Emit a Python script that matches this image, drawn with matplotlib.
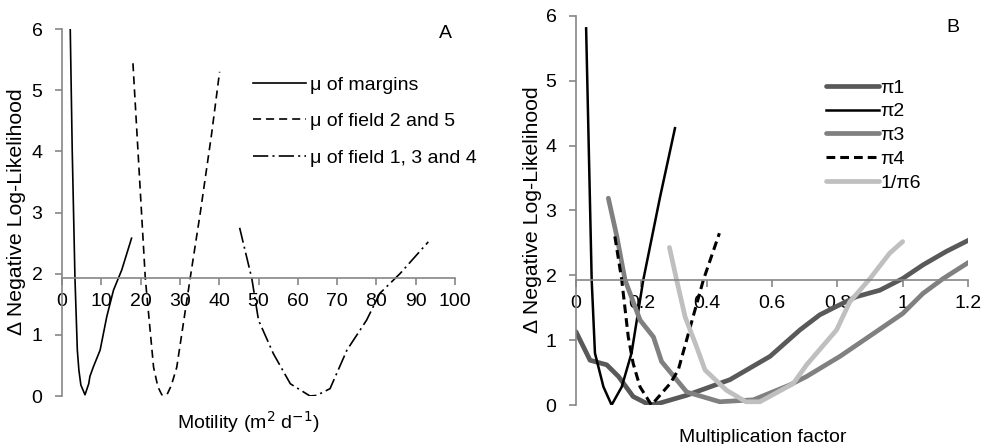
import matplotlib
matplotlib.use("Agg")
import matplotlib.pyplot as plt

plt.rcParams['font.family'] = ['Liberation Sans', 'DejaVu Sans']
plt.rcParams['font.size'] = 14
plt.rcParams['lines.scale_dashes'] = False

# ---------------- Panel A data ----------------
margins_x = [2.1, 2.6, 3.3, 3.9, 4.3, 4.8, 5.85, 6.8, 7.1, 8.0, 9.7, 11.4, 13.1, 15.2, 17.7]
margins_y = [6.0, 4.02, 1.92, 0.75, 0.42, 0.18, 0.02, 0.2, 0.32, 0.48, 0.75, 1.3, 1.73, 2.06, 2.58]

f25_x = [18.05, 21.2, 23.3, 24.4, 25.4, 26.7, 27.8, 29.2, 32.6, 35.2, 38.1, 40.1]
f25_y = [5.44, 1.92, 0.47, 0.15, 0.02, 0.02, 0.17, 0.47, 1.92, 3.0, 4.3, 5.3]

f134_x = [45.2, 48.3, 50.0, 53.8, 58.1, 63.1, 64.8, 68.2, 72.5, 77.5, 80.9, 86.0, 93.2]
f134_y = [2.75, 1.92, 1.24, 0.69, 0.2, 0.0, 0.01, 0.12, 0.75, 1.24, 1.68, 2.0, 2.52]

labels_a = ['μ of margins', 'μ of field 2 and 5', 'μ of field 1, 3 and 4']

# ---------------- Panel B data ----------------
pi1_x = [0.0, 0.043, 0.094, 0.13, 0.175, 0.226, 0.257, 0.339, 0.471, 0.594, 0.686, 0.746,
         0.797, 0.858, 0.93, 1.0, 1.062, 1.134, 1.205]
pi1_y = [1.13, 0.69, 0.62, 0.44, 0.13, 0.0, 0.03, 0.15, 0.39, 0.75, 1.16, 1.39,
         1.52, 1.67, 1.77, 1.95, 2.16, 2.37, 2.55]

pi2_x = [0.031, 0.048, 0.058, 0.084, 0.109, 0.14, 0.17, 0.206, 0.257, 0.303]
pi2_y = [5.81, 1.93, 0.8, 0.28, 0.0, 0.28, 0.8, 1.93, 3.2, 4.27]

pi3_x = [0.099, 0.125, 0.15, 0.196, 0.237, 0.262, 0.339, 0.44, 0.543, 0.655, 0.706,
         0.808, 0.91, 1.0, 1.062, 1.124, 1.205]
pi3_y = [3.19, 2.6, 1.93, 1.31, 1.05, 0.67, 0.2, 0.05, 0.08, 0.31, 0.44,
         0.75, 1.1, 1.41, 1.72, 1.95, 2.21]

pi4_x = [0.119, 0.14, 0.16, 0.175, 0.196, 0.231, 0.288, 0.313, 0.344, 0.39, 0.439]
pi4_y = [2.6, 1.93, 1.05, 0.64, 0.28, 0.0, 0.33, 0.54, 1.1, 1.93, 2.65]

pi6_x = [0.286, 0.308, 0.334, 0.369, 0.395, 0.46, 0.52, 0.563, 0.665, 0.706, 0.798,
         0.838, 0.9, 0.96, 1.0]
pi6_y = [2.43, 1.93, 1.36, 0.9, 0.54, 0.23, 0.05, 0.05, 0.33, 0.62, 1.16,
         1.59, 1.95, 2.34, 2.52]

labels_b = ['π1', 'π2', 'π3', 'π4', '1/π6']

xticks_a = [0, 10, 20, 30, 40, 50, 60, 70, 80, 90, 100]
xticks_b = [0, 0.2, 0.4, 0.6, 0.8, 1, 1.2]
xticklabels_b = ['0', '0.2', '0.4', '0.6', '0.8', '1', '1.2']
yticks = [0, 1, 2, 3, 4, 5, 6]
crossing = 1.93

W, H = 990, 444
fig = plt.figure(figsize=(W / 100, H / 100), dpi=100)

axcol = '#868686'


def style(ax):
    for s in ['top', 'right']:
        ax.spines[s].set_visible(False)
    ax.spines['left'].set_color(axcol)
    ax.spines['bottom'].set_color(axcol)
    ax.spines['left'].set_linewidth(1.2)
    ax.spines['bottom'].set_linewidth(1.2)
    ax.spines['bottom'].set_position(('data', crossing))
    ax.tick_params(axis='y', direction='out', length=5, width=1.2, color=axcol, pad=9)
    ax.tick_params(axis='x', direction='out', length=5, width=1.2, color=axcol, pad=6)
    ax.set_yticks(yticks)
    ax.set_ylim(0, 6)


# Panel A
axA = fig.add_axes([62 / W, (H - 396) / H, 393 / W, 367 / H])
axA.plot(margins_x, margins_y, color='black', lw=1.2, label=labels_a[0])
axA.plot(f25_x, f25_y, color='black', lw=1.2, linestyle=(0, (5.8, 3.6)), label=labels_a[1])
axA.plot(f134_x, f134_y, color='black', lw=1.2, linestyle=(0, (11, 3, 1.5, 3)), label=labels_a[2])
axA.set_xlim(0, 100)
axA.set_xticks(xticks_a)
style(axA)
legA = axA.legend(loc='upper left', bbox_to_anchor=(253 / W, 1 - 76 / H), bbox_transform=fig.transFigure,
                  frameon=False, handlelength=2.7, handletextpad=0.25, labelspacing=0.98,
                  borderpad=0, borderaxespad=0)
fig.text(445 / W, 1 - 34 / H, 'A', ha='center', va='center', fontsize=14)

# Panel B
axB = fig.add_axes([576 / W, (H - 405) / H, 392 / W, 389 / H])
axB.plot(pi1_x, pi1_y, color='#595959', lw=3.4, label=labels_b[0], solid_capstyle='round')
axB.plot(pi2_x, pi2_y, color='black', lw=1.8, label=labels_b[1])
axB.plot(pi3_x, pi3_y, color='#808080', lw=3.4, label=labels_b[2], solid_capstyle='round')
axB.plot(pi4_x, pi4_y, color='black', lw=2.2, linestyle=(0, (6.3, 3.6)), label=labels_b[3])
axB.plot(pi6_x, pi6_y, color='#bfbfbf', lw=3.4, label=labels_b[4], solid_capstyle='round')
axB.set_xlim(0, 1.2)
axB.set_xticks(xticks_b)
axB.set_xticklabels(xticklabels_b)
style(axB)
legB = axB.legend(loc='upper left', bbox_to_anchor=(826 / W, 1 - 79 / H), bbox_transform=fig.transFigure,
                  frameon=False, handlelength=2.7, handletextpad=0.1, labelspacing=0.32,
                  borderpad=0, borderaxespad=0)
fig.text(953 / W, 1 - 27 / H, 'B', ha='center', va='center', fontsize=14)

# axis labels
fig.text(17 / W, 1 - 212 / H, 'Δ Negative Log-Likelihood', rotation=90, ha='center', va='center', fontsize=15.3)
fig.text(533 / W, 1 - 210 / H, 'Δ Negative Log-Likelihood', rotation=90, ha='center', va='center', fontsize=15.3)
fig.text(248 / W, (H - 429) / H, 'Motility (m$^2$ d$^{-1}$)', ha='center', va='baseline')
fig.text(763 / W, (H - 441.5) / H, 'Multiplication factor', ha='center', va='baseline')

fig.savefig('out.png', dpi=100)
